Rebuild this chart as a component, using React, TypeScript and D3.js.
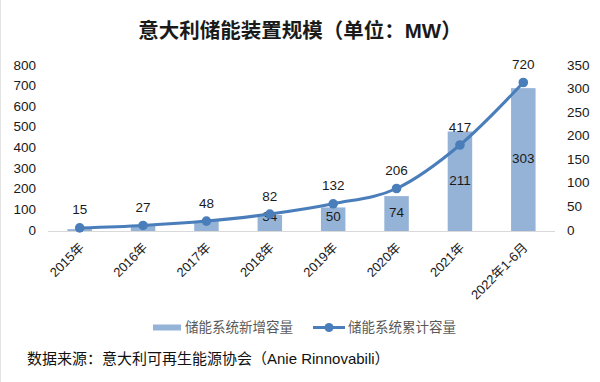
import React from "react";
import * as d3 from "d3";

const categories = ["2015年", "2016年", "2017年", "2018年", "2019年", "2020年", "2021年", "2022年1-6月"];
const newCapacity = [4, 12, 21, 34, 50, 74, 211, 303];
const newCapacityLabelShown = [false, false, false, true, true, true, true, true];
const cumulativeCapacity = [15, 27, 48, 82, 132, 206, 417, 720];
const leftTicks = [0, 100, 200, 300, 400, 500, 600, 700, 800];
const rightTicks = [0, 50, 100, 150, 200, 250, 300, 350];
const title = "意大利储能装置规模（单位：MW）";
const legendNew = "储能系统新增容量";
const legendCum = "储能系统累计容量";
const source = "数据来源：意大利可再生能源协会（Anie Rinnovabili）";

const W = 600;
const H = 382;
const plotLeft = 48;
const plotRight = 555;
const plotTop = 66;
const plotBottom = 231;

const BAR = "#95b3d7";
const LINE = "#4a7ebb";
const FONT = "'Liberation Sans', Arial, 'Noto Sans CJK SC', sans-serif";

export default function App() {
  const x = d3.scaleBand<string>().domain(categories).range([plotLeft, plotRight]).paddingInner(0.62).paddingOuter(0.31);
  const xc = d3.scaleBand<string>().domain(categories).range([plotLeft, plotRight]);
  const yL = d3.scaleLinear().domain([0, 800]).range([plotBottom, plotTop]);
  const yR = d3.scaleLinear().domain([0, 350]).range([plotBottom, plotTop]);
  const cx = (c: string) => (xc(c) as number) + xc.bandwidth() / 2;

  const line = d3
    .line<number>()
    .x((_, i) => cx(categories[i]))
    .y((d) => yL(d))
    .curve(d3.curveCatmullRom.alpha(0));

  const bw = 24.5;

  return (
    <svg
      width={W}
      height={H}
      viewBox={`0 0 ${W} ${H}`}
      style={{ position: "absolute", left: 0, top: 0, background: "#fff" }}
      fontFamily={FONT}
    >
      <rect x={0} y={0} width={W} height={H} fill="#fff" />
      <line x1={0.5} y1={0} x2={0.5} y2={H} stroke="#e3e3e3" />
      <text x={300} y={33} textAnchor="middle" dominantBaseline="middle" fontSize={20.5} fontWeight="bold" fill="#1a1a1a">
        {title}
      </text>

      {/* left axis labels */}
      {leftTicks.map((t) => (
        <text key={"l" + t} x={36} y={yL(t)} textAnchor="end" dominantBaseline="middle" fontSize={13.5} fill="#1a1a1a">
          {t}
        </text>
      ))}
      {/* right axis labels */}
      {rightTicks.map((t) => (
        <text key={"r" + t} x={567} y={yR(t)} textAnchor="start" dominantBaseline="middle" fontSize={13.5} fill="#1a1a1a">
          {t}
        </text>
      ))}

      {/* bars */}
      {newCapacity.map((v, i) => {
        const c = categories[i];
        return (
          <rect key={"b" + i} x={cx(c) - bw / 2} y={yR(v)} width={bw} height={plotBottom - yR(v)} fill={BAR} />
        );
      })}

      {/* baseline */}
      <line x1={plotLeft} x2={plotRight} y1={plotBottom + 0.5} y2={plotBottom + 0.5} stroke="#d9d9d9" strokeWidth={1.2} />

      {/* bar labels */}
      {newCapacity.map((v, i) =>
        newCapacityLabelShown[i] ? (
          <text
            key={"bl" + i}
            x={cx(categories[i])}
            y={Math.min((yR(v) + plotBottom) / 2, plotBottom - 14)}
            textAnchor="middle"
            dominantBaseline="middle"
            fontSize={13.5}
            fill="#1a1a1a"
          >
            {v}
          </text>
        ) : null
      )}

      {/* line */}
      <path d={line(cumulativeCapacity) || ""} fill="none" stroke={LINE} strokeWidth={3} />
      {cumulativeCapacity.map((v, i) => (
        <circle key={"p" + i} cx={cx(categories[i])} cy={yL(v)} r={4.8} fill={LINE} />
      ))}
      {cumulativeCapacity.map((v, i) => (
        <text
          key={"pl" + i}
          x={cx(categories[i])}
          y={yL(v) - 17}
          textAnchor="middle"
          dominantBaseline="middle"
          fontSize={13.5}
          fill="#1a1a1a"
        >
          {v}
        </text>
      ))}

      {/* x labels */}
      {categories.map((c) => (
        <text
          key={"x" + c}
          transform={`translate(${cx(c) + 2},${245}) rotate(-45)`}
          textAnchor="end"
          dy="0.35em"
          fontSize={13}
          fill="#1a1a1a"
        >
          {c}
        </text>
      ))}

      {/* legend */}
      <rect x={153} y={324.5} width={28} height={6} fill={BAR} />
      <text x={185} y={328} dominantBaseline="middle" fontSize={13.5} fill="#595959">
        {legendNew}
      </text>
      <line x1={313} x2={345} y1={327.5} y2={327.5} stroke={LINE} strokeWidth={3} />
      <circle cx={329} cy={327.5} r={4.5} fill={LINE} />
      <text x={348} y={328} dominantBaseline="middle" fontSize={13.5} fill="#595959">
        {legendCum}
      </text>

      {/* source */}
      <text x={27} y={360} dominantBaseline="middle" fontSize={15} fill="#111">
        {source}
      </text>
    </svg>
  );
}
